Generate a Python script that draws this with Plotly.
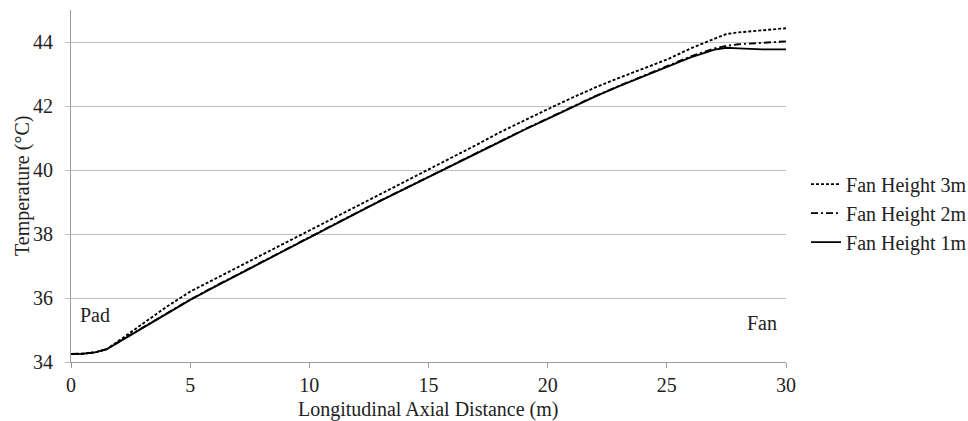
import plotly.graph_objects as go

x = [0, 0.5, 1, 1.5, 2, 3, 4, 5, 6, 7, 8, 9, 10, 11, 12, 13, 14, 15, 16, 17, 18, 19, 20,
     21, 22, 23, 24, 25, 26, 27, 27.5, 28, 29, 30]

fan3 = [34.25, 34.26, 34.3, 34.4, 34.66, 35.18, 35.72, 36.2, 36.58, 36.96, 37.34, 37.72, 38.1,
        38.48, 38.86, 39.24, 39.62, 40.0, 40.38, 40.78, 41.18, 41.55, 41.9,
        42.25, 42.58, 42.88, 43.16, 43.45, 43.8, 44.1, 44.25, 44.3, 44.37, 44.43]

fan2 = [34.25, 34.26, 34.3, 34.4, 34.63, 35.07, 35.51, 35.95, 36.35, 36.74, 37.13, 37.52, 37.91,
        38.29, 38.67, 39.05, 39.42, 39.79, 40.15, 40.51, 40.88, 41.26, 41.61,
        41.96, 42.31, 42.63, 42.93, 43.24, 43.55, 43.8, 43.88, 43.93, 43.98, 44.02]

fan1 = [34.25, 34.26, 34.3, 34.4, 34.62, 35.06, 35.5, 35.94, 36.34, 36.73, 37.12, 37.51, 37.9,
        38.28, 38.66, 39.04, 39.41, 39.78, 40.14, 40.5, 40.87, 41.25, 41.6,
        41.95, 42.3, 42.62, 42.92, 43.22, 43.52, 43.76, 43.82, 43.8, 43.77, 43.77]

series = [
    ("Fan Height 3m", fan3, "3px,2px"),
    ("Fan Height 2m", fan2, "7px,3px,2px,3px"),
    ("Fan Height 1m", fan1, "solid"),
]

x_title = "Longitudinal Axial Distance (m)"
y_title = "Temperature (°C)"

font_family = "Liberation Serif"
txt = "#222"
fs = 20

fig = go.Figure()
for name, ys, dash in series:
    fig.add_trace(go.Scatter(
        x=x, y=ys, mode="lines", name=name,
        line=dict(color="black", width=1.9, dash=dash),
    ))

fig.add_annotation(x=0.3, y=35.47, text="Pad", showarrow=False, xanchor="left",
                   yanchor="middle", font=dict(size=fs, color=txt, family=font_family))
fig.add_annotation(x=29.7, y=35.22, text="Fan", showarrow=False, xanchor="right",
                   yanchor="middle", font=dict(size=fs, color=txt, family=font_family))
fig.add_annotation(xref="paper", yref="paper", x=0.5, y=-0.135, text=x_title,
                   showarrow=False, xanchor="center", yanchor="middle",
                   font=dict(size=fs, color=txt, family=font_family))
fig.add_annotation(xref="paper", yref="paper", x=-0.0685, y=0.5, text=y_title,
                   showarrow=False, xanchor="center", yanchor="middle", textangle=-90,
                   font=dict(size=fs, color=txt, family=font_family))

fig.update_layout(
    width=968, height=421,
    margin=dict(l=71, r=182, t=10, b=59, autoexpand=False),
    paper_bgcolor="white", plot_bgcolor="white",
    font=dict(family=font_family, size=fs, color=txt),
    showlegend=True,
    legend=dict(x=1.028, y=0.423, xanchor="left", yanchor="middle",
                font=dict(size=fs, family=font_family, color=txt),
                bgcolor="rgba(0,0,0,0)", itemwidth=30),
    xaxis=dict(
        range=[0, 30], tickmode="linear", tick0=0, dtick=5,
        showgrid=False, zeroline=False, automargin=False,
        showline=True, linecolor="#9a9a9a", linewidth=1,
        ticks="outside", ticklen=5, tickcolor="#9a9a9a",
        ticklabelstandoff=0,
        tickfont=dict(size=fs, family=font_family, color=txt),
    ),
    yaxis=dict(
        range=[34, 45], tickmode="linear", tick0=34, dtick=2,
        showgrid=True, gridcolor="#c0c0c0", gridwidth=1.2, zeroline=False,
        automargin=False,
        showline=True, linecolor="#9a9a9a", linewidth=1,
        ticks="outside", ticklen=5, tickcolor="#c0c0c0",
        ticklabelstandoff=8,
        tickfont=dict(size=fs, family=font_family, color=txt),
    ),
)

fig.write_html("out.html")
